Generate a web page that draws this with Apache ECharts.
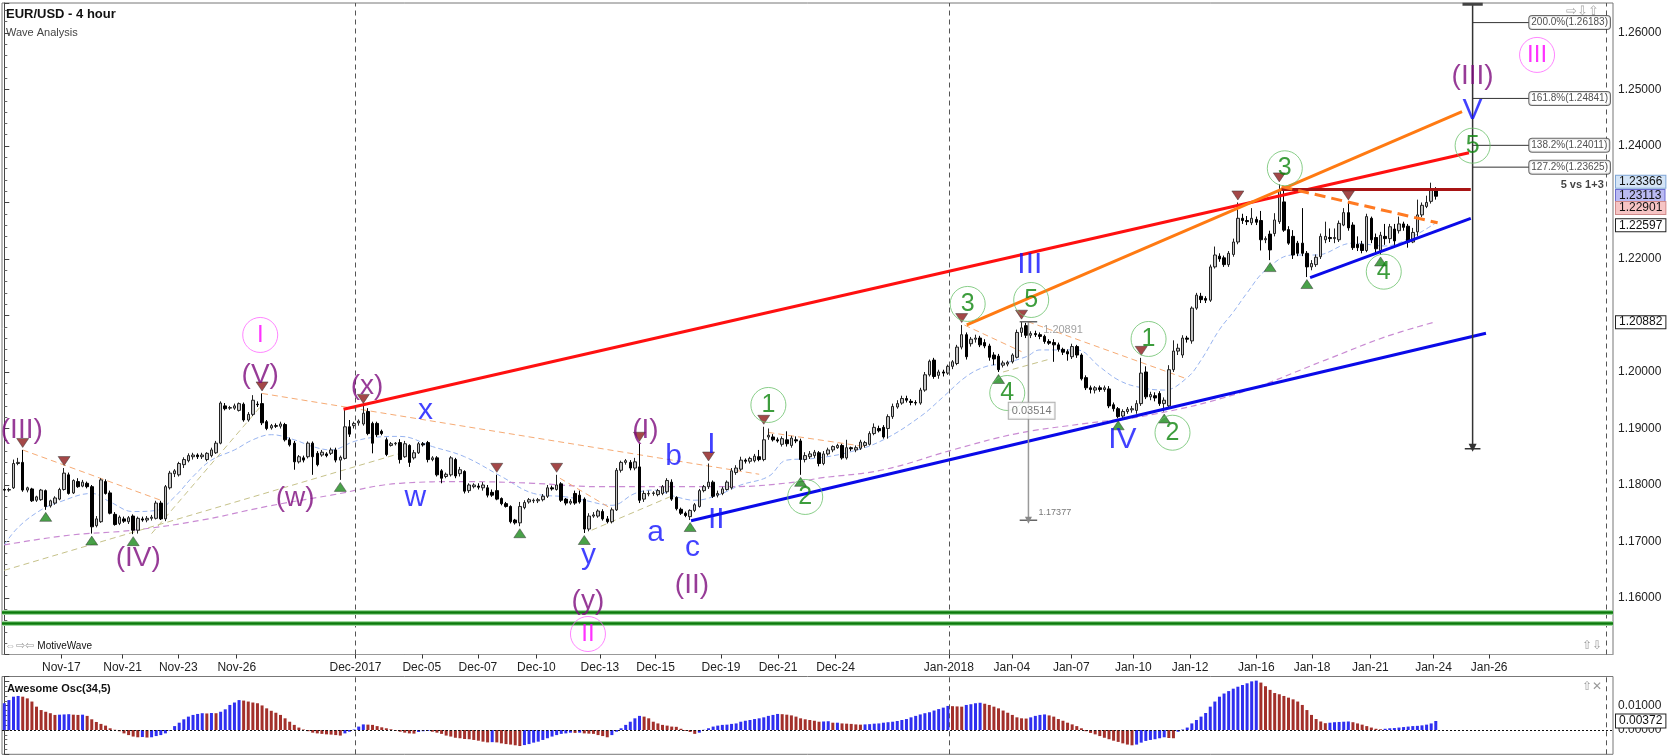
<!DOCTYPE html>
<html>
<head>
    <meta charset="utf-8">
    <script type="text/javascript" src="https://cdn.jsdelivr.net/npm/echarts@6/dist/echarts.min.js"></script>
    <style>
        html, body { margin: 0; padding: 0; background: #fff; }
        #main { width: 1668px; height: 755px; }
    </style>
</head>
<body>
<div id="main"></div>
<script type="text/javascript">
    // candles in pips above 1.1000 : [open, close, low, high], one per 4h bar
    var BASE = 1.1;
    var candles = [
        [792,791,789,794],[791,792,788,795],[795,838,793,845],[838,840,835,848],[840,791,788,862],
        [791,795,787,797],[793,772,770,795],[773,779,770,781],[774,791,772,793],[790,762,756,792],
        [763,772,760,774],[768,777,765,780],[775,792,773,795],[792,821,790,830],[818,785,783,822],
        [786,808,784,810],[806,797,795,812],[798,805,796,809],[803,797,794,806],[797,726,714,800],
        [728,740,725,745],[735,809,733,812],[806,785,783,810],[786,750,748,790],[748,730,728,752],
        [732,743,729,746],[740,736,733,744],[735,742,731,745],[745,720,713,748],[720,741,714,744],
        [740,738,735,744],[738,741,734,745],[741,743,737,747],[741,768,739,772],[768,740,738,772],
        [740,797,736,800],[795,821,792,825],[820,825,814,828],[818,838,815,841],[836,845,830,849],
        [843,852,840,856],[850,853,845,857],[853,850,846,856],[850,853,846,857],[845,856,842,858],
        [852,862,849,866],[857,874,855,878],[874,945,872,948],[940,935,932,945],[936,937,933,940],
        [936,940,933,944],[932,944,930,946],[943,915,912,946],[915,925,912,929],[925,950,922,959],
        [943,942,938,948],[944,910,906,962],[912,900,897,915],[901,905,898,908],[905,904,901,909],
        [904,908,900,912],[907,880,877,910],[880,871,868,884],[874,841,827,878],[841,850,838,853],
        [848,844,840,852],[850,874,847,877],[874,850,818,877],[856,836,833,860],[853,858,850,862],
        [855,852,849,858],[856,862,853,866],[862,844,840,866],[844,849,809,852],[847,903,845,933],
        [903,890,885,915],[905,909,900,912],[910,913,905,916],[908,927,905,940],[930,891,888,936],
        [909,874,856,912],[909,889,885,912],[895,891,888,898],[880,854,851,884],[870,873,868,876],
        [873,874,870,876],[875,845,838,881],[850,873,848,878],[870,840,832,872],[848,857,845,862],
        [857,873,855,876],[873,871,868,876],[875,845,840,878],[845,848,842,851],[848,818,815,851],
        [825,812,803,828],[815,819,812,822],[818,848,815,851],[845,816,812,848],[820,827,815,832],
        [824,789,785,826],[790,800,786,803],[797,800,794,803],[798,796,792,803],[795,800,790,805],
        [795,782,778,800],[787,782,779,792],[790,775,773,818],[776,767,764,778],[767,762,760,770],
        [762,735,732,764],[738,733,730,740],[733,762,727,770],[760,769,757,773],[770,774,767,777],
        [772,773,768,776],[772,774,768,777],[774,780,771,784],[780,795,777,800],[795,793,790,799],
        [792,800,790,818],[802,773,770,805],[775,768,764,777],[768,771,765,775],[785,768,765,790],
        [782,770,767,790],[775,722,715,778],[722,745,718,750],[745,747,742,752],[745,754,742,757],
        [753,740,737,757],[740,735,732,745],[735,756,732,760],[756,826,754,830],[826,840,822,843],
        [840,843,836,846],[840,830,826,844],[830,841,826,848],[832,773,768,873],[775,785,770,790],
        [784,785,780,790],[785,786,781,789],[783,790,780,793],[785,797,782,800],[788,808,785,812],
        [805,775,772,810],[778,758,755,780],[757,750,747,760],[750,746,743,753],[744,755,738,757],
        [755,765,752,768],[762,790,760,793],[790,797,787,800],[797,805,793,838],[805,780,777,808],
        [782,785,778,790],[785,793,782,797],[792,805,790,808],[795,825,792,830],[822,830,818,835],
        [828,844,825,850],[844,842,838,847],[842,847,838,850],[843,851,840,855],[850,845,842,862],
        [845,880,842,903],[885,888,880,900],[885,880,877,890],[880,878,875,884],[872,882,868,886],
        [880,873,868,895],[870,883,866,887],[880,878,874,886],[878,845,818,882],[845,852,840,858],
        [850,855,846,860],[852,858,848,862],[857,838,833,860],[838,855,835,860],[855,862,852,866],
        [862,868,858,870],[866,870,864,873],[870,848,845,873],[848,866,845,880],[866,864,860,868],
        [862,866,858,870],[865,876,862,880],[870,875,866,878],[872,891,870,895],[891,902,888,909],
        [900,896,893,905],[902,885,882,906],[900,921,882,925],[921,939,917,944],[938,944,935,950],
        [945,953,942,958],[953,950,946,958],[948,946,941,952],[946,945,941,950],[945,968,942,972],
        [968,995,965,1000],[995,1019,992,1022],[1021,992,988,1025],[994,1000,988,1004],[1000,998,992,1004],
        [998,1010,995,1013],[1010,1018,1005,1021],[1015,1044,1012,1048],[1044,1066,1040,1083],[1066,1027,1022,1070],
        [1050,1058,1045,1062],[1058,1060,1052,1066],[1060,1048,1044,1064],[1052,1046,1042,1058],[1046,1026,1020,1050],
        [1030,1023,1012,1035],[1028,1004,1000,1032],[1012,1016,1008,1020],[1014,1017,1010,1020],[1018,1030,1015,1033],
        [1026,1070,1024,1075],[1070,1078,1062,1089],[1082,1065,1060,1087],[1065,1068,1060,1072],[1068,1066,1062,1073],
        [1066,1063,1058,1070],[1063,1054,1050,1066],[1054,1051,1048,1058],[1052,1048,1018,1058],[1048,1040,1036,1052],
        [1040,1035,1030,1043],[1036,1032,1020,1040],[1027,1045,1023,1050],[1045,1030,1025,1048],[1030,988,985,1033],
        [990,972,968,994],[972,969,962,976],[968,972,962,975],[972,969,965,976],[969,972,965,976],
        [970,940,936,975],[942,935,930,946],[935,921,918,938],[922,930,918,934],[930,934,926,938],
        [933,935,928,940],[932,944,926,950],[944,998,940,1025],[1000,956,952,1010],[956,960,950,965],
        [958,954,948,964],[962,944,940,966],[944,950,930,955],[940,1004,935,1012],[1004,1037,1000,1056],
        [1037,1042,1030,1050],[1030,1060,1025,1065],[1060,1058,1052,1064],[1055,1113,1050,1116],[1113,1136,1110,1140],
        [1134,1128,1122,1140],[1130,1127,1122,1134],[1127,1186,1124,1190],[1186,1207,1183,1222],[1205,1200,1195,1210],
        [1202,1190,1186,1206],[1190,1210,1186,1214],[1208,1230,1204,1236],[1230,1272,1226,1300],[1272,1268,1262,1280],
        [1268,1266,1260,1276],[1264,1272,1260,1290],[1270,1265,1260,1275],[1268,1234,1215,1285],[1234,1236,1228,1240],
        [1244,1216,1198,1250],[1245,1269,1240,1281],[1266,1322,1262,1332],[1301,1251,1248,1324],[1252,1228,1225,1258],
        [1240,1207,1200,1251],[1228,1210,1205,1232],[1228,1210,1205,1290],[1210,1186,1168,1214],[1186,1192,1180,1198],
        [1190,1203,1186,1208],[1204,1240,1200,1245],[1234,1240,1228,1266],[1238,1236,1230,1254],[1236,1238,1228,1254],
        [1234,1263,1230,1268],[1260,1282,1258,1290],[1282,1255,1250,1300],[1260,1220,1216,1265],[1226,1220,1214,1240],
        [1226,1215,1210,1232],[1215,1275,1212,1280],[1272,1234,1228,1275],[1238,1218,1208,1245],[1215,1242,1208,1248],
        [1240,1236,1225,1262],[1236,1257,1228,1262],[1253,1232,1225,1262],[1250,1262,1245,1275],[1262,1256,1250,1266],
        [1258,1230,1220,1262],[1230,1247,1228,1255],[1248,1278,1240,1305],[1278,1295,1274,1300],[1293,1300,1290,1312],
        [1302,1322,1298,1335],[1322,1311,1305,1327]
    ];

    // Awesome Oscillator, units of 0.0001
    var aoValues = [
        110,123,137,140,137,130,117,96,82,75,69,62,63,64,65,63,62,63,58,44,
        33,25,18,7,1,-5,-14,-21,-27,-30,-29,-31,-30,-25,-21,-14,-3,16,30,44,
        55,62,66,69,68,70,69,75,85,103,113,123,121,117,113,110,101,89,79,71,
        62,48,34,21,10,2,-5,-11,-14,-16,-18,-19,-21,-23,-14,-7,2,14,23,22,
        21,16,11,7,3,-3,-7,-11,-14,-15,-8,-5,-4,-7,-11,-16,-23,-27,-32,-34,
        -37,-38,-41,-44,-48,-51,-50,-51,-55,-58,-60,-63,-66,-62,-58,-52,-48,-41,-34,-27,
        -21,-16,-14,-11,-12,-11,-14,-15,-16,-21,-25,-30,-21,-7,7,21,34,48,58,55,
        48,34,27,21,18,14,13,5,-3,-8,-16,-11,1,7,14,18,21,22,25,27,
        34,38,41,45,48,52,58,62,66,65,63,60,55,48,44,41,38,34,35,36,
        30,30,27,26,25,23,22,23,24,26,27,30,32,34,37,41,45,52,58,64,
        69,73,80,86,92,99,98,97,96,103,106,110,112,108,103,96,89,80,71,62,
        52,48,47,52,58,62,64,60,55,45,38,30,23,16,7,-5,-12,-18,-25,-32,
        -38,-44,-49,-55,-60,-63,-60,-52,-45,-41,-38,-34,-30,-33,-34,-7,2,10,27,41,
        55,70,96,117,137,150,160,170,178,185,192,200,203,195,180,165,152,147,140,133,
        126,117,103,82,62,45,35,28,30,32,33,34,35,32,27,22,16,10,5,3,
        5,7,8,10,12,14,16,17,19,22,27,37
    ];

    var tickPos = [12.4, 25.7, 37.8, 50.5, 76.3, 90.7, 102.9, 115.6, 129.4, 141.5, 155.7, 168.1, 180.6,
        205.2, 218.9, 231.8, 245.3, 257.6, 272, 284.1, 296.8, 310.5, 322.6];
    var tickText = ['Nov-17', 'Nov-21', 'Nov-23', 'Nov-26', 'Dec-2017', 'Dec-05', 'Dec-07', 'Dec-10', 'Dec-13',
        'Dec-15', 'Dec-19', 'Dec-21', 'Dec-24', 'Jan-2018', 'Jan-04', 'Jan-07', 'Jan-10', 'Jan-12', 'Jan-16',
        'Jan-18', 'Jan-21', 'Jan-24', 'Jan-26'];
    var monthLines = [76.3, 205.2, 348.1];

    var priceFlags = [1.23366, 1.23113, 1.22901, 1.22597, 1.20882];
    var aoFlag = 0.00372;

    var fibLevels = [1.26183, 1.24841, 1.24011, 1.23625];
    var fibNames = ['200.0%', '161.8%', '138.2%', '127.2%'];
    var fibStem = [[319, 1.2651], [319, 1.1866]];

    var highMarks = [4, 13, 56, 78, 107, 120, 138, 153, 165, 208, 221, 247, 268, 277, 292];
    var lowMarks = [9, 19, 28, 73, 112, 126, 149, 173, 216, 242, 252, 275, 283, 299];

    // moving averages [bar, pips]
    var fastMA = [[0,694],[3,725],[8,756],[12,770],[19,785],[23,770],[28,753],[33,755],[37,779],[41,815],
        [45,844],[50,862],[54,880],[58,889],[63,880],[67,868],[71,862],[76,877],[80,884],[86,886],
        [93,868],[100,850],[108,815],[115,785],[122,779],[126,773],[132,764],[137,785],[141,791],[146,779],
        [150,773],[155,782],[160,800],[166,815],[170,844],[176,847],[184,859],[191,880],[199,921],[204,956],
        [209,992],[213,1009],[217,1015],[222,1027],[225,1039],[229,1039],[233,1039],[238,1009],[242,986],[246,974],
        [252,968],[257,990],[260,1021],[264,1075],[267,1106],[270,1140],[274,1180],[280,1207],[285,1207],[293,1228],
        [300,1223],[306,1240],[311,1264]];
    var slowMA = [[0,694],[14,711],[28,720],[43,738],[57,762],[71,782],[86,803],[100,806],[115,803],[129,797],
        [144,797],[158,797],[173,806],[177,812],[191,827],[206,862],[220,891],[235,909],[249,924],[268,962],
        [287,1021],[300,1062],[311,1089]];

    // drawn trend lines [bar, price]
    var redLine = [[73.7, 1.1934], [318.2, 1.23881]];
    var orangeLine = [[209.1, 1.20832], [316.7, 1.24607]];
    var blueLower = [[149.2, 1.17368], [321.9, 1.20685]];
    var blueUpper = [[283.7, 1.21669], [318.6, 1.22720]];
    var topLevel = [[277.5, 1.2323], [318.6, 1.2323]];
    var boldDashed = [[277.5, 1.2328], [311.4, 1.2264]];
    var supportLevels = [1.1574, 1.1555];
    var orangeDashed = [
        [[4, 1.1862], [35, 1.1770]], [[56, 1.1962], [164, 1.1819]], [[120.7, 1.1812], [132.3, 1.1756]],
        [[166, 1.1893], [187, 1.1868]], [[208.6, 1.2083], [221, 1.2036]], [[222.4, 1.2089], [256.5, 1.1989]]
    ];
    var khakiDashed = [
        [[0, 1.1649], [86, 1.1856]], [[32, 1.1714], [56, 1.1942]], [[127.6, 1.1720], [144.6, 1.1779]],
        [[217, 1.2000], [226.8, 1.2022]]
    ];
    var measure = [[222.5, 1.20891], [222.5, 1.17377]];

    // wave counts [text, bar, price]
    var pinkWaves = [['I', 55.6, 1.20655], ['II', 126.8, 1.15363], ['III', 333, 1.25611]];
    var purpleWaves = [['(III)', 3.8, 1.18973], ['(IV)', 29.1, 1.16708], ['(V)', 55.6, 1.19947], ['(w)', 63.2, 1.1777],
        ['(x)', 78.8, 1.1974], ['(y)', 126.8, 1.15935], ['(I)', 139.3, 1.18973], ['(II)', 149.4, 1.1623],
        ['(III)', 319, 1.25239]];
    var blueWaves = [['x', 91.5, 1.19315], ['w', 89.3, 1.1777], ['y', 126.9, 1.16743], ['a', 141.5, 1.1715],
        ['b', 145.4, 1.18496], ['c', 149.5, 1.16885], ['I', 153.6, 1.18708], ['II', 154.7, 1.17381],
        ['III', 222.8, 1.21894], ['IV', 242.9, 1.18797], ['V', 319, 1.24619]];
    var greenWaves = [['1', 166, 1.19416], ['2', 174, 1.17788], ['3', 209.3, 1.21204], ['4', 217.9, 1.19628],
        ['5', 223.1, 1.21274], ['1', 248.6, 1.20584], ['2', 253.8, 1.18925], ['3', 278.2, 1.23605],
        ['4', 299.7, 1.21775], ['5', 319, 1.24005]];

    var FONT = '"Liberation Sans", Arial, sans-serif';

    function px(p) { return BASE + p / 10000; }

    function seg(points, color, width, type, z) {
        return {
            type: 'line', data: points, symbol: 'none', silent: true, z: z || 3,
            lineStyle: {color: color, width: width, type: type || 'solid'}
        };
    }

    function textSeries(items, color, size, circle) {
        return {
            type: 'scatter', z: 6, silent: true,
            symbol: 'circle',
            symbolSize: circle ? 35 : 1,
            itemStyle: circle ? {color: 'rgba(0,0,0,0)', borderColor: circle, borderWidth: 1}
                : {color: 'rgba(0,0,0,0)'},
            label: {
                show: true, position: 'inside', formatter: '{b}',
                color: color, fontSize: size, fontFamily: FONT
            },
            data: items.map(function (w) { return {name: w[0], value: [w[1], w[2]]}; })
        };
    }

    function smallText(point, text, color, size, pos, extra) {
        var label = {show: true, position: pos, distance: 0, formatter: text, color: color,
            fontSize: size, fontFamily: FONT};
        for (var k in extra) label[k] = extra[k];
        return {
            type: 'scatter', z: 7, silent: true, symbolSize: 1,
            itemStyle: {color: 'rgba(0,0,0,0)'}, label: label, data: [point]
        };
    }

    var candleData = candles.map(function (c, i) {
        return [i, px(c[0]), px(c[1]), px(c[2]), px(c[3])];
    });

    var aoData = aoValues.map(function (v, i) {
        var up = i === 0 || v >= aoValues[i - 1];
        return {value: [i, v / 10000], itemStyle: {color: up ? '#2f2ff0' : '#a3302b'}};
    });

    var flagFill = ['#d4e4f6', '#babaf2', '#f6c4c4', '#ffffff', '#ffffff'];
    var flagBorder = ['#7fa6d6', '#6b6bd0', '#d08a8a', '#222', '#222'];

    var candleMarks = [];
    monthLines.forEach(function (x) {
        candleMarks.push({xAxis: x, label: {show: false},
            lineStyle: {color: '#555', type: [5, 4], width: 1}});
    });
    supportLevels.forEach(function (y) {
        candleMarks.push({yAxis: y, label: {show: false},
            lineStyle: {color: '#9fd89f', type: 'solid', width: 5}});
        candleMarks.push({yAxis: y, label: {show: false},
            lineStyle: {color: '#0b7a0b', type: 'solid', width: 2.5}});
    });
    priceFlags.forEach(function (y, k) {
        candleMarks.push({
            yAxis: y,
            lineStyle: {color: 'rgba(0,0,0,0)', width: 0},
            label: {
                show: true, position: 'end', distance: 3, formatter: y.toFixed(5),
                color: '#111', fontSize: 12, lineHeight: 12, fontFamily: FONT,
                backgroundColor: flagFill[k], borderColor: flagBorder[k], borderWidth: 1,
                padding: [0, 3, 0, 3]
            }
        });
    });

    var aoMarks = [
        {yAxis: 0, label: {show: false}, lineStyle: {color: '#111', type: [2, 2], width: 1}},
        {
            yAxis: aoFlag, lineStyle: {color: 'rgba(0,0,0,0)', width: 0},
            label: {
                show: true, position: 'end', distance: 3, formatter: aoFlag.toFixed(5),
                color: '#111', fontSize: 12, lineHeight: 12, fontFamily: FONT,
                backgroundColor: '#fff', borderColor: '#222', borderWidth: 1, padding: [1, 3, 0, 3]
            }
        }
    ];
    monthLines.forEach(function (x) {
        aoMarks.push({xAxis: x, label: {show: false}, lineStyle: {color: '#555', type: [5, 4], width: 1}});
    });

    var series = [];

    series.push(seg(fastMA.map(function (p) { return [p[0], px(p[1])]; }), '#98b4f0', 1, [5, 3], 1));
    series[series.length - 1].smooth = 0.4;
    series.push(seg(slowMA.map(function (p) { return [p[0], px(p[1])]; }), '#c98bd3', 1.2, [6, 4], 1));
    series[series.length - 1].smooth = 0.4;
    khakiDashed.forEach(function (s) { series.push(seg(s, '#c6c28a', 1, [6, 4], 1)); });
    orangeDashed.forEach(function (s) { series.push(seg(s, '#f6ab75', 1, [6, 4], 1)); });

    series.push({
        type: 'candlestick', name: 'EUR/USD', data: candleData, z: 2,
        encode: {x: 0, y: [1, 2, 3, 4]},
        barWidth: 3,
        itemStyle: {color: '#c4c4c4', color0: '#000', borderColor: '#222', borderColor0: '#000', borderWidth: 1},
        markLine: {silent: true, symbol: 'none', animation: false, precision: 5, data: candleMarks}
    });

    series.push(seg(redLine, '#ff1010', 3, 'solid', 3));
    series.push(seg(orangeLine, '#ff7a12', 3, 'solid', 3));
    series.push(seg(blueLower, '#0a0ae8', 3, 'solid', 3));
    series.push(seg(blueUpper, '#0a0ae8', 3, 'solid', 3));
    series.push(seg(topLevel, '#a81414', 3, 'solid', 3));
    series.push(seg(boldDashed, '#ff7a22', 3, [11, 6], 3));

    // measuring tool
    series.push({
        type: 'line', silent: true, z: 3, symbol: 'none',
        lineStyle: {color: '#9a9a9a', width: 1.5},
        data: [measure[0], {value: measure[1], symbol: 'triangle', symbolRotate: 180, symbolSize: [7, 7],
            itemStyle: {color: '#888'}}]
    });
    series.push(seg([[220.6, measure[0][1]], [224.4, measure[0][1]]], '#666', 1.5, 'solid', 3));
    series.push(seg([[220.6, measure[1][1]], [224.4, measure[1][1]]], '#666', 1.5, 'solid', 3));
    series.push(smallText([223.2, 1.19315], '0.03514', '#555', 11, 'inside',
        {backgroundColor: '#fff', borderColor: '#9a9a9a', borderWidth: 1, padding: [3, 3, 2, 3]}));
    series.push(smallText([225.6, 1.2075], '1.20891', '#8a8a8a', 11, 'right', {}));
    series.push(smallText([224.6, 1.1751], '1.17377', '#555', 9, 'right', {}));

    // fibonacci projection
    series.push({
        type: 'line', silent: true, z: 3, symbol: 'none',
        lineStyle: {color: '#333', width: 1.5},
        data: [fibStem[0], {value: fibStem[1], symbol: 'triangle', symbolRotate: 180, symbolSize: [8, 8],
            itemStyle: {color: '#333'}}]
    });
    series.push(seg([[316.8, fibStem[0][1]], [321.2, fibStem[0][1]]], '#444', 3, 'solid', 3));
    series.push(seg([[317.3, fibStem[1][1] - 0.0002], [320.7, fibStem[1][1] - 0.0002]], '#333', 1.5, 'solid', 3));
    fibLevels.forEach(function (lv, k) {
        series.push(seg([[319, lv], [331.2, lv]], '#333', 1, 'solid', 3));
        series.push(smallText([331.2, lv], fibNames[k] + '(' + lv.toFixed(5) + ')', '#222', 10, 'right',
            {backgroundColor: '#fff', borderColor: '#444', borderWidth: 1, borderRadius: 3, padding: [2, 2, 1, 2]}));
    });
    series.push(smallText([347.6, 1.2331], '5 vs 1+3', '#111', 11, 'left', {fontWeight: 'bold'}));

    // swing markers
    series.push({
        type: 'scatter', z: 5, silent: true, symbol: 'triangle', symbolRotate: 180,
        symbolSize: [12, 9], symbolOffset: [0, -7],
        itemStyle: {color: '#8d1a1a', borderColor: '#333', borderWidth: 0.6},
        data: highMarks.map(function (i) { return [i, px(candles[i][3])]; })
    });
    series.push({
        type: 'scatter', z: 5, silent: true, symbol: 'triangle',
        symbolSize: [12, 9], symbolOffset: [0, 7],
        itemStyle: {color: '#1c8a1c', borderColor: '#333', borderWidth: 0.6},
        data: lowMarks.map(function (i) { return [i, px(candles[i][2])]; })
    });

    series.push(textSeries(purpleWaves, '#7d0a7d', 28, null));
    series.push(textSeries(blueWaves, '#1212ff', 30, null));
    series.push(textSeries(pinkWaves, '#ff00ff', 24, '#ff66ff'));
    series.push(textSeries(greenWaves, '#0d850d', 25, '#6cc26c'));

    series.push({
        type: 'bar', xAxisIndex: 1, yAxisIndex: 1, data: aoData, barWidth: 3, silent: true,
        markLine: {silent: true, symbol: 'none', animation: false, precision: 5, data: aoMarks}
    });

    var myChart = echarts.init(document.getElementById('main'));
    var option = {
        animation: false,
        backgroundColor: '#fff',
        textStyle: {fontFamily: FONT},
        title: [
            {
                text: 'EUR/USD - 4 hour', subtext: 'Wave Analysis', left: 6, top: 8, padding: 0, itemGap: 6,
                textStyle: {fontSize: 13, fontWeight: 'bold', color: '#111', fontFamily: FONT},
                subtextStyle: {fontSize: 11, color: '#444', fontFamily: FONT}
            },
            {
                text: 'Awesome Osc(34,5)', left: 7, top: 683, padding: 0,
                textStyle: {fontSize: 11, fontWeight: 'bold', color: '#111', fontFamily: FONT}
            }
        ],
        grid: [
            {left: 2, right: 55, top: 3, height: 651.5, show: true, borderColor: '#777', borderWidth: 1},
            {left: 2, right: 55, top: 676.5, height: 77.8, show: true, borderColor: '#777', borderWidth: 1}
        ],
        xAxis: [
            {
                type: 'value', gridIndex: 0, min: -0.5, max: 349.5,
                axisLine: {show: true, onZero: false, lineStyle: {color: '#999'}},
                axisTick: {show: true, customValues: tickPos, length: 4, lineStyle: {color: '#333'}},
                axisLabel: {
                    customValues: tickPos, margin: 7, fontSize: 12, color: '#222', fontFamily: FONT,
                    formatter: function (v) {
                        for (var k = 0; k < tickPos.length; k++) {
                            if (Math.abs(tickPos[k] - v) < 0.01) return tickText[k];
                        }
                        return '';
                    }
                },
                splitLine: {show: false}
            },
            {
                type: 'value', gridIndex: 1, min: -0.5, max: 349.5,
                axisLine: {show: false}, axisTick: {show: false}, axisLabel: {show: false},
                splitLine: {show: false}
            }
        ],
        yAxis: [
            {
                type: 'value', gridIndex: 0, position: 'right', min: 1.15, max: 1.2653, interval: 0.01,
                axisLine: {show: true, lineStyle: {color: '#444'}},
                axisTick: {show: true, length: 5, lineStyle: {color: '#444'}},
                minorTick: {show: true, splitNumber: 5, length: 3, lineStyle: {color: '#666'}},
                splitLine: {show: false},
                axisLabel: {
                    margin: 5, fontSize: 12, color: '#222', fontFamily: FONT,
                    formatter: function (v) {
                        var r = Math.round(v * 100);
                        if (Math.abs(v * 100 - r) > 1e-6) return '';
                        if (r === 115 || r === 121 || r === 123) return '';
                        return v.toFixed(5);
                    }
                }
            },
            {
                type: 'value', gridIndex: 1, position: 'right', min: -0.01, max: 0.022, interval: 0.01,
                axisLine: {show: true, lineStyle: {color: '#444'}},
                axisTick: {show: true, length: 5, lineStyle: {color: '#444'}},
                minorTick: {show: true, splitNumber: 5, length: 3, lineStyle: {color: '#666'}},
                splitLine: {show: false},
                axisLabel: {
                    margin: 5, fontSize: 12, color: '#222', fontFamily: FONT,
                    formatter: function (v) {
                        if (Math.abs(v - 0.01) < 1e-9) return '0.01000';
                        if (Math.abs(v) < 1e-9) return '0.00000';
                        return '';
                    }
                }
            }
        ],
        graphic: [
            {type: 'text', left: 1566, top: 5, style: {text: '⇨⇩⇧', fill: '#aaa', fontSize: 13}},
            {
                type: 'text', left: 5, top: 640,
                style: {
                    text: '{a|⇔⇨⇦} {b|MotiveWave}',
                    rich: {a: {fill: '#999', fontSize: 11}, b: {fill: '#111', fontSize: 10, fontFamily: FONT}}
                }
            },
            {type: 'text', left: 1582, top: 640, style: {text: '⇧⇩', fill: '#999', fontSize: 12}},
            {type: 'text', left: 1582, top: 681, style: {text: '⇧✕', fill: '#999', fontSize: 12}}
        ],
        series: series
    };
    myChart.setOption(option);
</script>
</body>
</html>
